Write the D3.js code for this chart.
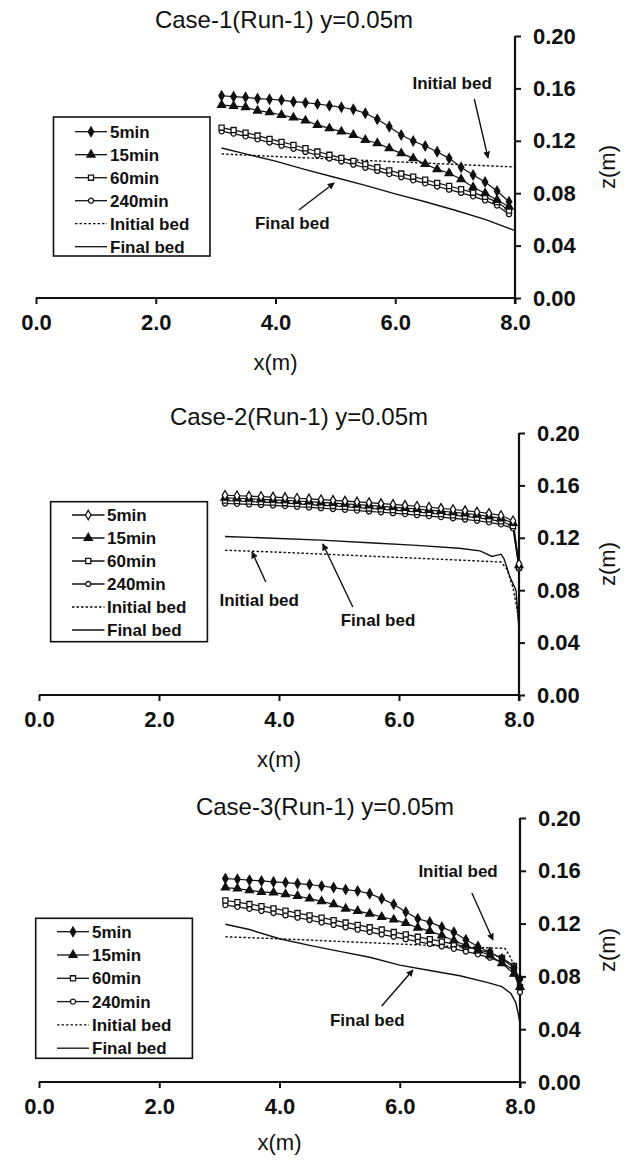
<!DOCTYPE html>
<html>
<head>
<meta charset="utf-8">
<script src="https://cdn.jsdelivr.net/npm/d3@7"></script>
<style>
  body { margin: 0; background: #fff; }
  svg { display: block; }
  text { font-family: "Liberation Sans", Arial, Helvetica, sans-serif; fill: #111; }
</style>
</head>
<body>
<svg id="chart" width="634" height="1160"></svg>
<script>
// ---- axis ticks ----
const xTicks = [0, 2, 4, 6, 8];
const zTicks = [0, 0.04, 0.08, 0.12, 0.16, 0.2];
const seriesNames = ["5min", "15min", "60min", "240min"];
const bedNames = ["Initial bed", "Final bed"];

// ---- Case-1: water surface profiles (x in m, z in m) ----
const case1X = [3.1, 3.3, 3.5, 3.7, 3.9, 4.1, 4.3, 4.5, 4.7, 4.9, 5.1, 5.3, 5.5, 5.7, 5.9, 6.1, 6.3, 6.5, 6.7, 6.9, 7.1, 7.3, 7.5, 7.7, 7.9];
const case1_5min = [0.1544, 0.1537, 0.1532, 0.1522, 0.1517, 0.1511, 0.1499, 0.1491, 0.1481, 0.1468, 0.1456, 0.1440, 0.1410, 0.1364, 0.1308, 0.1244, 0.1198, 0.1160, 0.1117, 0.1066, 0.0998, 0.0939, 0.0885, 0.0817, 0.0735];
const case1_15min = [0.1473, 0.1466, 0.1456, 0.1430, 0.1417, 0.1397, 0.1377, 0.1354, 0.1321, 0.1295, 0.1270, 0.1244, 0.1206, 0.1181, 0.1142, 0.1104, 0.1066, 0.1023, 0.0982, 0.0952, 0.0906, 0.0845, 0.0799, 0.0748, 0.0697];
const case1_60min = [0.1300, 0.1282, 0.1262, 0.1240, 0.1215, 0.1192, 0.1168, 0.1143, 0.1118, 0.1093, 0.1070, 0.1046, 0.1022, 0.0998, 0.0974, 0.0950, 0.0926, 0.0903, 0.0879, 0.0855, 0.0830, 0.0804, 0.0772, 0.0732, 0.0668];
const case1_240min = [0.1272, 0.1255, 0.1234, 0.1211, 0.1187, 0.1163, 0.1139, 0.1115, 0.1090, 0.1065, 0.1042, 0.1018, 0.0994, 0.0970, 0.0946, 0.0922, 0.0898, 0.0875, 0.0851, 0.0827, 0.0802, 0.0776, 0.0745, 0.0706, 0.0640];
const case1InitX = [3.1, 4.0, 5.0, 6.0, 7.0, 8.0];
const case1InitZ = [0.110, 0.108, 0.106, 0.104, 0.102, 0.100];
const case1FinalX = [3.1, 3.5, 4.0, 4.5, 5.0, 5.5, 6.0, 6.5, 7.0, 7.5, 8.0];
const case1FinalZ = [0.1145, 0.1100, 0.1045, 0.0980, 0.0920, 0.0860, 0.0795, 0.0735, 0.0670, 0.0600, 0.0515];

// ---- Case-2 ----
const case2X = [3.1, 3.3, 3.5, 3.7, 3.9, 4.1, 4.3, 4.5, 4.7, 4.9, 5.1, 5.3, 5.5, 5.7, 5.9, 6.1, 6.3, 6.5, 6.7, 6.9, 7.1, 7.3, 7.5, 7.7, 7.9, 8.0];
const case2_5min = [0.1525, 0.1521, 0.1518, 0.1515, 0.1511, 0.1507, 0.1502, 0.1497, 0.1491, 0.1486, 0.1480, 0.1474, 0.1468, 0.1461, 0.1455, 0.1448, 0.1441, 0.1433, 0.1425, 0.1416, 0.1407, 0.1397, 0.1386, 0.1370, 0.1330, 0.1000];
const case2_15min = [0.1505, 0.1502, 0.1498, 0.1494, 0.1490, 0.1486, 0.1481, 0.1476, 0.1470, 0.1465, 0.1459, 0.1453, 0.1447, 0.1440, 0.1434, 0.1427, 0.1420, 0.1412, 0.1404, 0.1395, 0.1386, 0.1376, 0.1364, 0.1348, 0.1312, 0.0990];
const case2_60min = [0.1484, 0.1481, 0.1477, 0.1473, 0.1469, 0.1464, 0.1459, 0.1454, 0.1448, 0.1443, 0.1437, 0.1431, 0.1424, 0.1418, 0.1411, 0.1404, 0.1397, 0.1389, 0.1381, 0.1372, 0.1363, 0.1353, 0.1341, 0.1326, 0.1290, 0.0975];
const case2_240min = [0.1462, 0.1459, 0.1455, 0.1451, 0.1447, 0.1442, 0.1437, 0.1432, 0.1426, 0.1420, 0.1414, 0.1408, 0.1401, 0.1395, 0.1388, 0.1381, 0.1373, 0.1366, 0.1358, 0.1349, 0.1340, 0.1330, 0.1318, 0.1303, 0.1272, 0.0965];
const case2InitX = [3.1, 4.0, 5.0, 6.0, 7.0, 7.7, 7.8, 7.9, 7.95, 8.0];
const case2InitZ = [0.1105, 0.1090, 0.1070, 0.1050, 0.1030, 0.1015, 0.0960, 0.0820, 0.0700, 0.0560];
const case2FinalX = [3.1, 4.0, 4.7, 5.5, 6.3, 7.0, 7.35, 7.55, 7.7, 7.75, 7.85, 7.95, 8.0];
const case2FinalZ = [0.1210, 0.1195, 0.1182, 0.1162, 0.1142, 0.1120, 0.1100, 0.1058, 0.1075, 0.1040, 0.0900, 0.0800, 0.0500];

// ---- Case-3 ----
const case3X = [3.1, 3.3, 3.5, 3.7, 3.9, 4.1, 4.3, 4.5, 4.7, 4.9, 5.1, 5.3, 5.5, 5.7, 5.9, 6.1, 6.3, 6.5, 6.7, 6.9, 7.1, 7.3, 7.5, 7.7, 7.9, 8.0];
const case3_5min = [0.1541, 0.1536, 0.1529, 0.1523, 0.1516, 0.1511, 0.1503, 0.1496, 0.1485, 0.1473, 0.1458, 0.1447, 0.1427, 0.1389, 0.1346, 0.1288, 0.1237, 0.1211, 0.1173, 0.1135, 0.1077, 0.1027, 0.0983, 0.0933, 0.0865, 0.0780];
const case3_15min = [0.1473, 0.1465, 0.1452, 0.1440, 0.1435, 0.1422, 0.1409, 0.1389, 0.1369, 0.1346, 0.1313, 0.1295, 0.1275, 0.1250, 0.1230, 0.1204, 0.1169, 0.1143, 0.1110, 0.1072, 0.1034, 0.0996, 0.0958, 0.0900, 0.0819, 0.0720];
const case3_60min = [0.1375, 0.1362, 0.1348, 0.1332, 0.1315, 0.1298, 0.1280, 0.1262, 0.1245, 0.1226, 0.1208, 0.1190, 0.1172, 0.1155, 0.1136, 0.1118, 0.1100, 0.1082, 0.1063, 0.1045, 0.1025, 0.1003, 0.0978, 0.0940, 0.0880, 0.0720];
const case3_240min = [0.1340, 0.1327, 0.1312, 0.1296, 0.1280, 0.1262, 0.1245, 0.1227, 0.1208, 0.1190, 0.1172, 0.1154, 0.1136, 0.1118, 0.1100, 0.1082, 0.1064, 0.1046, 0.1027, 0.1009, 0.0989, 0.0967, 0.0942, 0.0905, 0.0845, 0.0680];
const case3InitX = [3.1, 4.0, 5.0, 6.0, 7.0, 7.75, 7.85, 7.95, 8.0];
const case3InitZ = [0.1100, 0.1085, 0.1065, 0.1045, 0.1025, 0.1012, 0.0940, 0.0800, 0.0680];
const case3FinalX = [3.1, 3.5, 4.0, 4.5, 5.0, 5.5, 6.0, 6.5, 7.0, 7.45, 7.7, 7.85, 7.93, 7.97, 8.0];
const case3FinalZ = [0.1195, 0.1155, 0.1085, 0.1035, 0.0990, 0.0945, 0.0885, 0.0845, 0.0805, 0.0755, 0.0722, 0.0670, 0.0600, 0.0520, 0.0440];

// ---- layout of the three stacked plots ----
const panels = [
  {
    title: "Case-1(Run-1) y=0.05m", titleX: 284, titleY: 28,
    xRange: [36, 515], yRange: [298, 36], xLabelGap: 72,
    xs: case1X, series: [case1_5min, case1_15min, case1_60min, case1_240min],
    init: [case1InitX, case1InitZ], fin: [case1FinalX, case1FinalZ],
    openDiamond: false,
    legend: { x: 53.5, y: 117, w: 156.5, h: 139, row0: 131.7, step: 23, l0: 75, l1: 107, tx: 110 },
    notes: [
      { text: bedNames[0], at: [6.95, 0.1641], tail: [7.32, 0.1519], tip: [7.55, 0.1069] },
      { text: bedNames[1], at: [4.28, 0.0573], tail: [4.39, 0.0672], tip: [4.98, 0.0878] }
    ]
  },
  {
    title: "Case-2(Run-1) y=0.05m", titleX: 299, titleY: 425,
    xRange: [39, 519], yRange: [695, 433], xLabelGap: 72,
    xs: case2X, series: [case2_5min, case2_15min, case2_60min, case2_240min],
    init: [case2InitX, case2InitZ], fin: [case2FinalX, case2FinalZ],
    openDiamond: true,
    legend: { x: 50.6, y: 501.7, w: 156.8, h: 140, row0: 515, step: 23, l0: 72, l1: 104.5, tx: 107 },
    notes: [
      { text: bedNames[0], at: [3.67, 0.0725], tail: [3.78, 0.0863], tip: [3.55, 0.1092] },
      { text: bedNames[1], at: [5.65, 0.0573], tail: [5.23, 0.0672], tip: [4.73, 0.1153] }
    ]
  },
  {
    title: "Case-3(Run-1) y=0.05m", titleX: 325, titleY: 815,
    xRange: [39, 520], yRange: [1082, 818], xLabelGap: 68,
    xs: case3X, series: [case3_5min, case3_15min, case3_60min, case3_240min],
    init: [case3InitX, case3InitZ], fin: [case3FinalX, case3FinalZ],
    openDiamond: false,
    legend: { x: 35.7, y: 918.3, w: 156.7, h: 140, row0: 931.7, step: 23.3, l0: 57, l1: 89, tx: 92 },
    notes: [
      { text: bedNames[0], at: [6.97, 0.1598], tail: [7.20, 0.1432], tip: [7.55, 0.1076] },
      { text: bedNames[1], at: [5.46, 0.0470], tail: [5.70, 0.0576], tip: [6.22, 0.0848] }
    ]
  }
];

const ink = "#111";
const svg = d3.select("#chart");

svg.append("defs").append("marker")
  .attr("id", "arrowHead")
  .attr("viewBox", "0 0 10 10")
  .attr("refX", 9).attr("refY", 5)
  .attr("markerWidth", 7).attr("markerHeight", 7)
  .attr("markerUnits", "userSpaceOnUse")
  .attr("orient", "auto")
  .append("path").attr("d", "M0,0 L10,5 L0,10 Z").attr("fill", ink);

// marker shape for each time series
const symbolTypes = [d3.symbolDiamond, d3.symbolTriangle, d3.symbolSquare, d3.symbolCircle];
const symbolSizes = [26, 28, 26, 20];
function symbolFill(i, p) {
  if (i === 0) return p.openDiamond ? "#fff" : ink;
  if (i === 1) return ink;
  return "#fff";
}

function drawPanel(p) {
  const g = svg.append("g");
  const x = d3.scaleLinear().domain([0, 8]).range(p.xRange);
  const y = d3.scaleLinear().domain([0, 0.2]).range(p.yRange);

  // title
  g.append("text")
    .attr("x", p.titleX).attr("y", p.titleY)
    .attr("text-anchor", "middle")
    .style("font-size", "24px")
    .text(p.title);

  // bottom x axis
  const xAxis = d3.axisBottom(x).tickValues(xTicks).tickSize(6).tickPadding(10)
    .tickFormat(d3.format(".1f"));
  const xg = g.append("g").attr("transform", `translate(0,${y(0)})`).call(xAxis)
    .attr("font-family", null);
  xg.select(".domain").attr("d", `M${x(0)},0H${x(8)}`).attr("stroke", ink).attr("stroke-width", 2.2);
  xg.selectAll(".tick line").attr("stroke", ink).attr("stroke-width", 2);
  xg.selectAll(".tick text").attr("fill", ink)
    .style("font-size", "22px").style("font-weight", "bold");

  // right z axis
  const yAxis = d3.axisRight(y).tickValues(zTicks).tickSize(6).tickPadding(12)
    .tickFormat(d3.format(".2f"));
  const yg = g.append("g").attr("transform", `translate(${x(8)},0)`).call(yAxis)
    .attr("font-family", null);
  yg.select(".domain").attr("d", `M0,${y(0.2)}V${y(0) + 6}`).attr("stroke", ink).attr("stroke-width", 2.2);
  yg.selectAll(".tick line").attr("stroke", ink).attr("stroke-width", 2);
  yg.selectAll(".tick text").attr("fill", ink)
    .style("font-size", "22px").style("font-weight", "bold");

  // axis titles
  g.append("text")
    .attr("x", x(4)).attr("y", y(0) + p.xLabelGap)
    .attr("text-anchor", "middle")
    .style("font-size", "22px")
    .text("x(m)");
  const zx = 607, zy = (y(0) + y(0.2)) / 2;
  g.append("text")
    .attr("transform", `translate(${zx},${zy}) rotate(-90)`)
    .attr("text-anchor", "middle").attr("dy", "0.35em")
    .style("font-size", "22px")
    .text("z(m)");

  // bed profiles
  const line = d3.line().x(d => x(d[0])).y(d => y(d[1]));
  const initPts = p.init[0].map((v, i) => [v, p.init[1][i]]);
  const finPts = p.fin[0].map((v, i) => [v, p.fin[1][i]]);
  g.append("path").attr("d", line(initPts))
    .attr("fill", "none").attr("stroke", ink).attr("stroke-width", 1.4)
    .attr("stroke-dasharray", "2.5,2");
  g.append("path").attr("d", line(finPts))
    .attr("fill", "none").attr("stroke", ink).attr("stroke-width", 1.4);

  // water surface series, lines first then markers
  const seriesPts = p.series.map(vals => p.xs.map((v, i) => [v, vals[i]]));
  for (let s = seriesPts.length - 1; s >= 0; s--) {
    g.append("path").attr("d", line(seriesPts[s]))
      .attr("fill", "none").attr("stroke", ink).attr("stroke-width", 1.2);
  }
  for (let s = seriesPts.length - 1; s >= 0; s--) {
    const sym = d3.symbol().type(symbolTypes[s]).size(symbolSizes[s]);
    g.selectAll(null).data(seriesPts[s]).enter().append("path")
      .attr("d", sym)
      .attr("transform", d => `translate(${x(d[0])},${y(d[1])})`)
      .attr("fill", symbolFill(s, p))
      .attr("stroke", ink).attr("stroke-width", 1.3);
  }

  // annotations with arrows
  p.notes.forEach(n => {
    g.append("line")
      .attr("x1", x(n.tail[0])).attr("y1", y(n.tail[1]))
      .attr("x2", x(n.tip[0])).attr("y2", y(n.tip[1]))
      .attr("stroke", ink).attr("stroke-width", 1.4)
      .attr("marker-end", "url(#arrowHead)");
    g.append("text")
      .attr("x", x(n.at[0])).attr("y", y(n.at[1]))
      .attr("dy", "0.35em").attr("text-anchor", "middle")
      .style("font-size", "17px").style("font-weight", "bold")
      .text(n.text);
  });

  // legend
  const L = p.legend;
  g.append("rect")
    .attr("x", L.x).attr("y", L.y).attr("width", L.w).attr("height", L.h)
    .attr("fill", "#fff").attr("stroke", ink).attr("stroke-width", 1.6);
  const labels = seriesNames.concat(bedNames);
  labels.forEach((lab, i) => {
    const ry = L.row0 + i * L.step;
    const ln = g.append("line")
      .attr("x1", L.l0).attr("x2", L.l1).attr("y1", ry).attr("y2", ry)
      .attr("stroke", ink).attr("stroke-width", 1.3);
    if (i === 4) ln.attr("stroke-dasharray", "2.5,2");
    if (i < 4) {
      g.append("path")
        .attr("d", d3.symbol().type(symbolTypes[i]).size(symbolSizes[i])())
        .attr("transform", `translate(${(L.l0 + L.l1) / 2},${ry})`)
        .attr("fill", symbolFill(i, p))
        .attr("stroke", ink).attr("stroke-width", 1.3);
    }
    g.append("text")
      .attr("x", L.tx).attr("y", ry).attr("dy", "0.36em")
      .style("font-size", "17px").style("font-weight", "bold")
      .text(lab);
  });
}

panels.forEach(drawPanel);
</script>
</body>
</html>
